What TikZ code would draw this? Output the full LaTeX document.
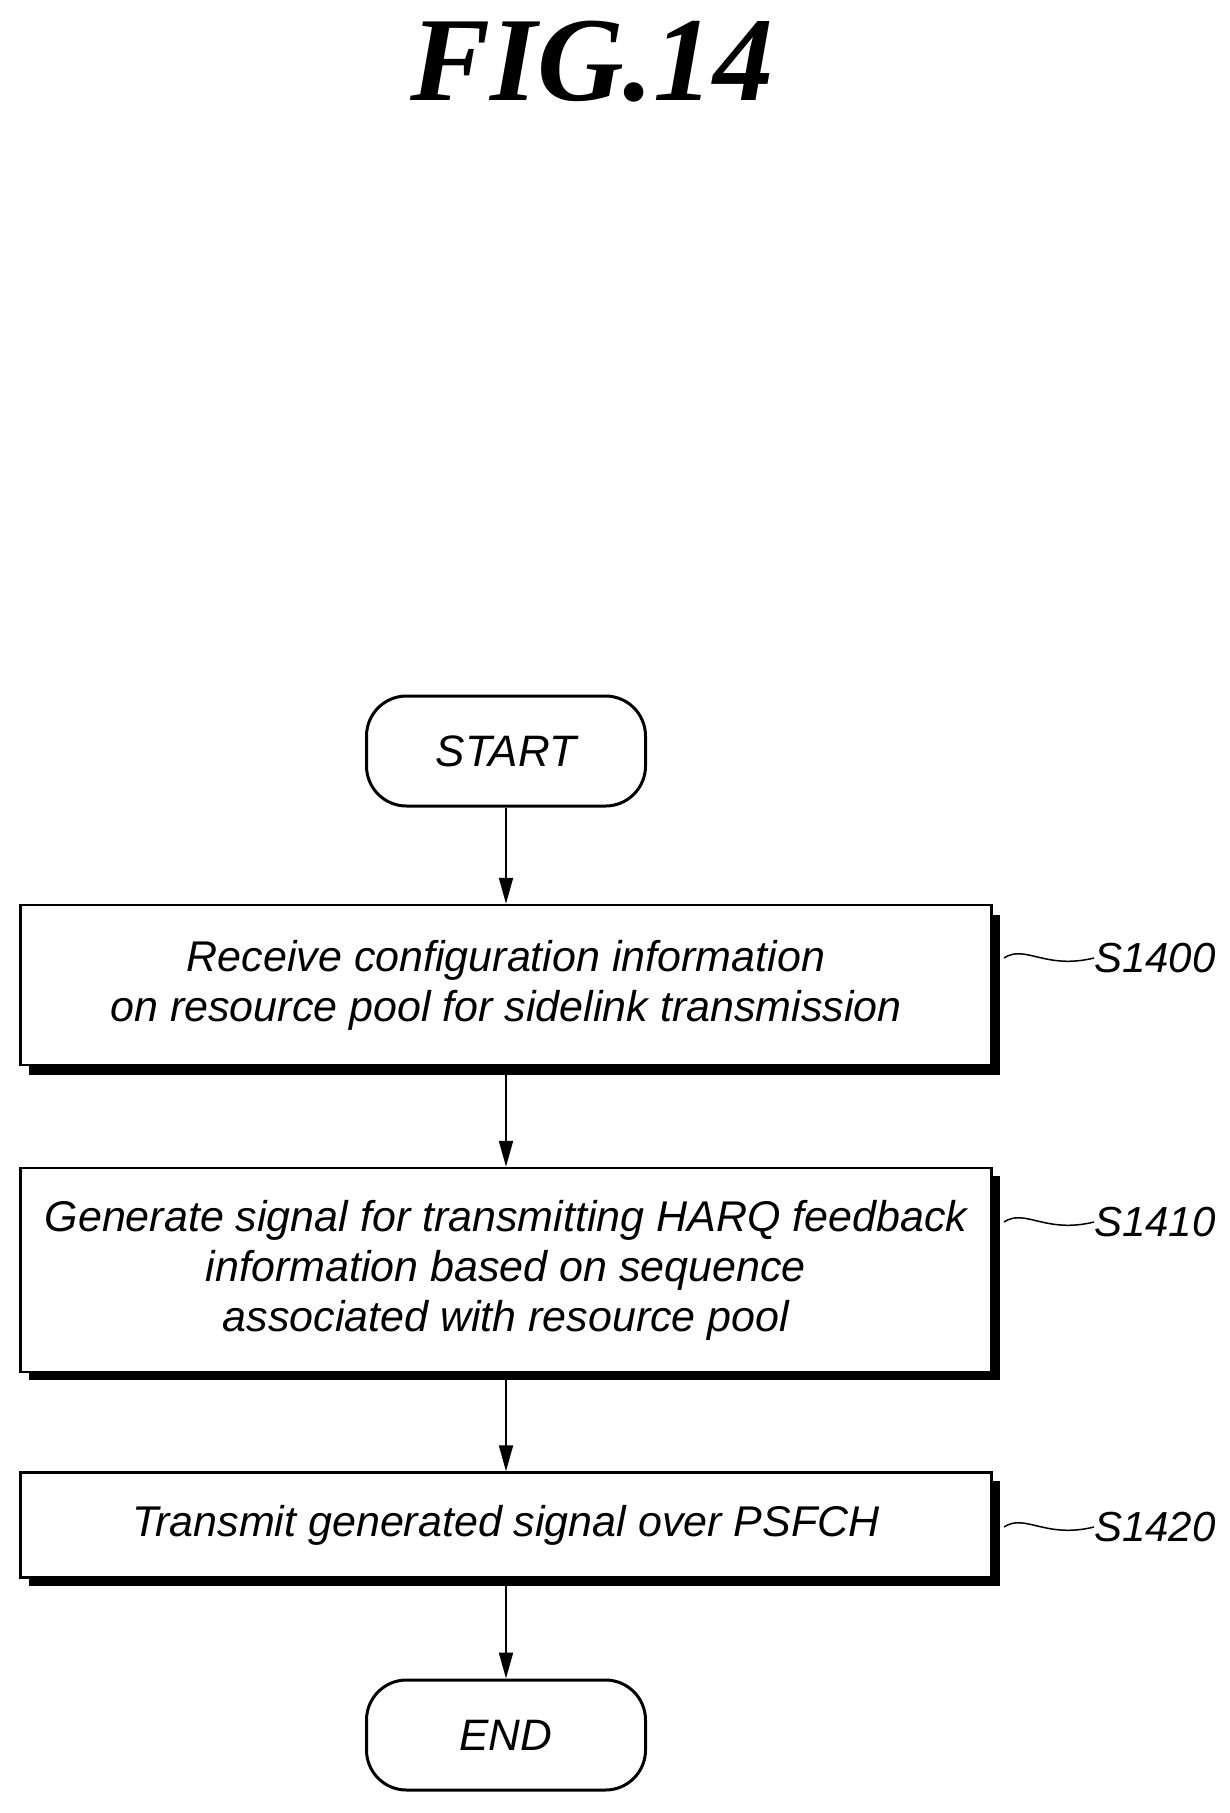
\documentclass[tikz,border=0pt]{standalone}
\usepackage{fontspec}
\setmainfont{Liberation Sans}
\newfontfamily\titlefont{Liberation Serif}
\usetikzlibrary{arrows.meta,decorations.pathmorphing}
\begin{document}
\begin{tikzpicture}[x=1pt,y=-1pt,
  box/.style={draw,line width=2.5pt,fill=white,minimum width=971pt,align=center,
    font=\fontsize{43}{50}\selectfont\itshape, inner sep=0pt},
  term/.style={draw,line width=3pt,fill=white,rounded corners=40pt,minimum width=279pt,minimum height=110pt,
    font=\fontsize{44}{50}\selectfont\itshape},
  arr/.style={line width=2pt,-{Triangle[length=26pt,width=14pt]}},
  lab/.style={font=\fontsize{42}{50}\selectfont\itshape,anchor=west,inner sep=0pt},
  sq/.style={line width=1.5pt}]
\useasboundingbox (0,0) rectangle (1230,1813);
\node[font=\titlefont\fontsize{120}{120}\selectfont\bfseries\itshape] (title) at (592,62) {FIG.14};
\fill (29,915) rectangle (1000,1075);
\fill (29,1176) rectangle (1000,1380);
\fill (29,1481) rectangle (1000,1586);
\node[term] (start) at (506,751) {START};
\node[box,minimum height=160pt] (b1) at (506,985) {Receive configuration information\\on resource pool for sidelink transmission};
\node[box,minimum height=204pt] (b2) at (506,1270) {Generate signal for transmitting HARQ feedback\\information based on sequence\\associated with resource pool};
\node[box,minimum height=105pt] (b3) at (506,1525) {Transmit generated signal over PSFCH};
\node[term] (end) at (506,1735) {END};
\draw[arr] (start) -- (b1);
\draw[arr] (b1.south |- 0,1075) -- (b2);
\draw[arr] (b2.south |- 0,1380) -- (b3);
\draw[arr] (b3.south |- 0,1586) -- (end);
\node[lab] (l1) at (1094,958) {S1400};
\node[lab] (l2) at (1094,1222) {S1410};
\node[lab] (l3) at (1094,1527) {S1420};
\foreach \l/\y in {l1/958,l2/1222,l3/1527}{
  \draw[sq] (1004,\y) .. controls (1025,\y-14) and (1045,\y+12) .. (\l.west);
}
\end{tikzpicture}
\end{document}
